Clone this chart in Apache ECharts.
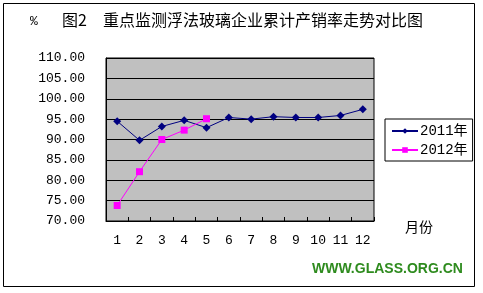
<!DOCTYPE html>
<html><head><meta charset="utf-8">
<script src="https://cdn.jsdelivr.net/npm/echarts@6/dist/echarts.min.js"></script>
<style>html,body{margin:0;padding:0;background:#fff}#c{width:483px;height:293px}</style>
</head><body><div id="c"></div>
<script>
var categories = ['1','2','3','4','5','6','7','8','9','10','11','12'];
var s2011 = [94.5, 89.8, 93.2, 94.7, 92.9, 95.4, 95.0, 95.6, 95.4, 95.4, 95.9, 97.4];
var s2012 = [73.8, 82.1, 90.0, 92.3, 95.1];
var yTicks = [70, 75, 80, 85, 90, 95, 100, 105, 110];
var names = ['2011年', '2012年'];
var titleFig = '图2';
var titleText = '重点监测浮法玻璃企业累计产销率走势对比图';
var unitText = '%';
var xName = '月份';
var watermark = 'WWW.GLASS.ORG.CN';

var mono = "'Liberation Mono','Noto Sans CJK SC',monospace";
var chart = echarts.init(document.getElementById('c'), null, {renderer:'canvas'});
chart.setOption({
  animation: false,
  backgroundColor: '#fff',
  grid: {left: 106, top: 58, width: 268, height: 163, show: true, backgroundColor: '#c0c0c0', borderColor: '#000', borderWidth: 1},
  legend: {
    orient: 'vertical', left: 385, top: 119, width: 88,
    padding: [5, 5, 4, 6], itemGap: 5, itemWidth: 26, itemHeight: 7,
    borderColor: '#000', borderWidth: 1, backgroundColor: '#fff',
    textStyle: {fontFamily: mono, fontSize: 14, lineHeight: 14, color: '#000', padding: [0,0,0,-3]},
    data: names
  },
  xAxis: {
    type: 'category', data: categories, boundaryGap: true,
    axisLine: {show: true, lineStyle: {color: '#000'}},
    axisTick: {show: true, inside: true, length: 4, lineStyle: {color: '#000'}},
    axisLabel: {fontFamily: mono, fontSize: 13, color: '#000', margin: 13}
  },
  yAxis: {
    type: 'value', min: 70, max: 110, interval: 5,
    axisLine: {show: true, lineStyle: {color: '#000'}},
    axisTick: {show: false},
    splitLine: {show: true, lineStyle: {color: '#000', width: 1}},
    axisLabel: {fontFamily: mono, fontSize: 13, color: '#000', margin: 21,
      formatter: function(v){ return yTicks.indexOf(v) >= 0 ? v.toFixed(2) : ''; }}
  },
  series: [
    {name: names[0], type: 'line', data: s2011, symbol: 'diamond', symbolSize: 8,
     color: '#000080', lineStyle: {color: '#000080', width: 1}, itemStyle: {color: '#000080'}},
    {name: names[1], type: 'line', data: s2012, symbol: 'rect', symbolSize: 7,
     color: '#ff00ff', lineStyle: {color: '#ff00ff', width: 1}, itemStyle: {color: '#ff00ff'}}
  ],
  graphic: [
    {type: 'rect', shape: {x: 3.5, y: 3.5, width: 471, height: 283}, style: {fill: 'none', stroke: '#000', lineWidth: 1}, z: 100},
    {type: 'text', left: 30, top: 15, style: {text: unitText, font: "13px 'Liberation Mono'", fill: '#000'}},
    {type: 'text', left: 62, top: 12, style: {text: titleFig, font: "16px 'Noto Sans CJK SC'", fill: '#000'}},
    {type: 'text', left: 103, top: 12, style: {text: titleText, font: "16px 'Noto Sans CJK SC'", fill: '#000'}},
    {type: 'text', left: 405, top: 220, style: {text: xName, font: "14px 'Noto Sans CJK SC'", fill: '#000'}},
    {type: 'text', left: 312, top: 262, style: {text: watermark, font: "bold 14px 'Liberation Sans'", fill: '#2e8b1e'}}
  ]
});
</script></body></html>
